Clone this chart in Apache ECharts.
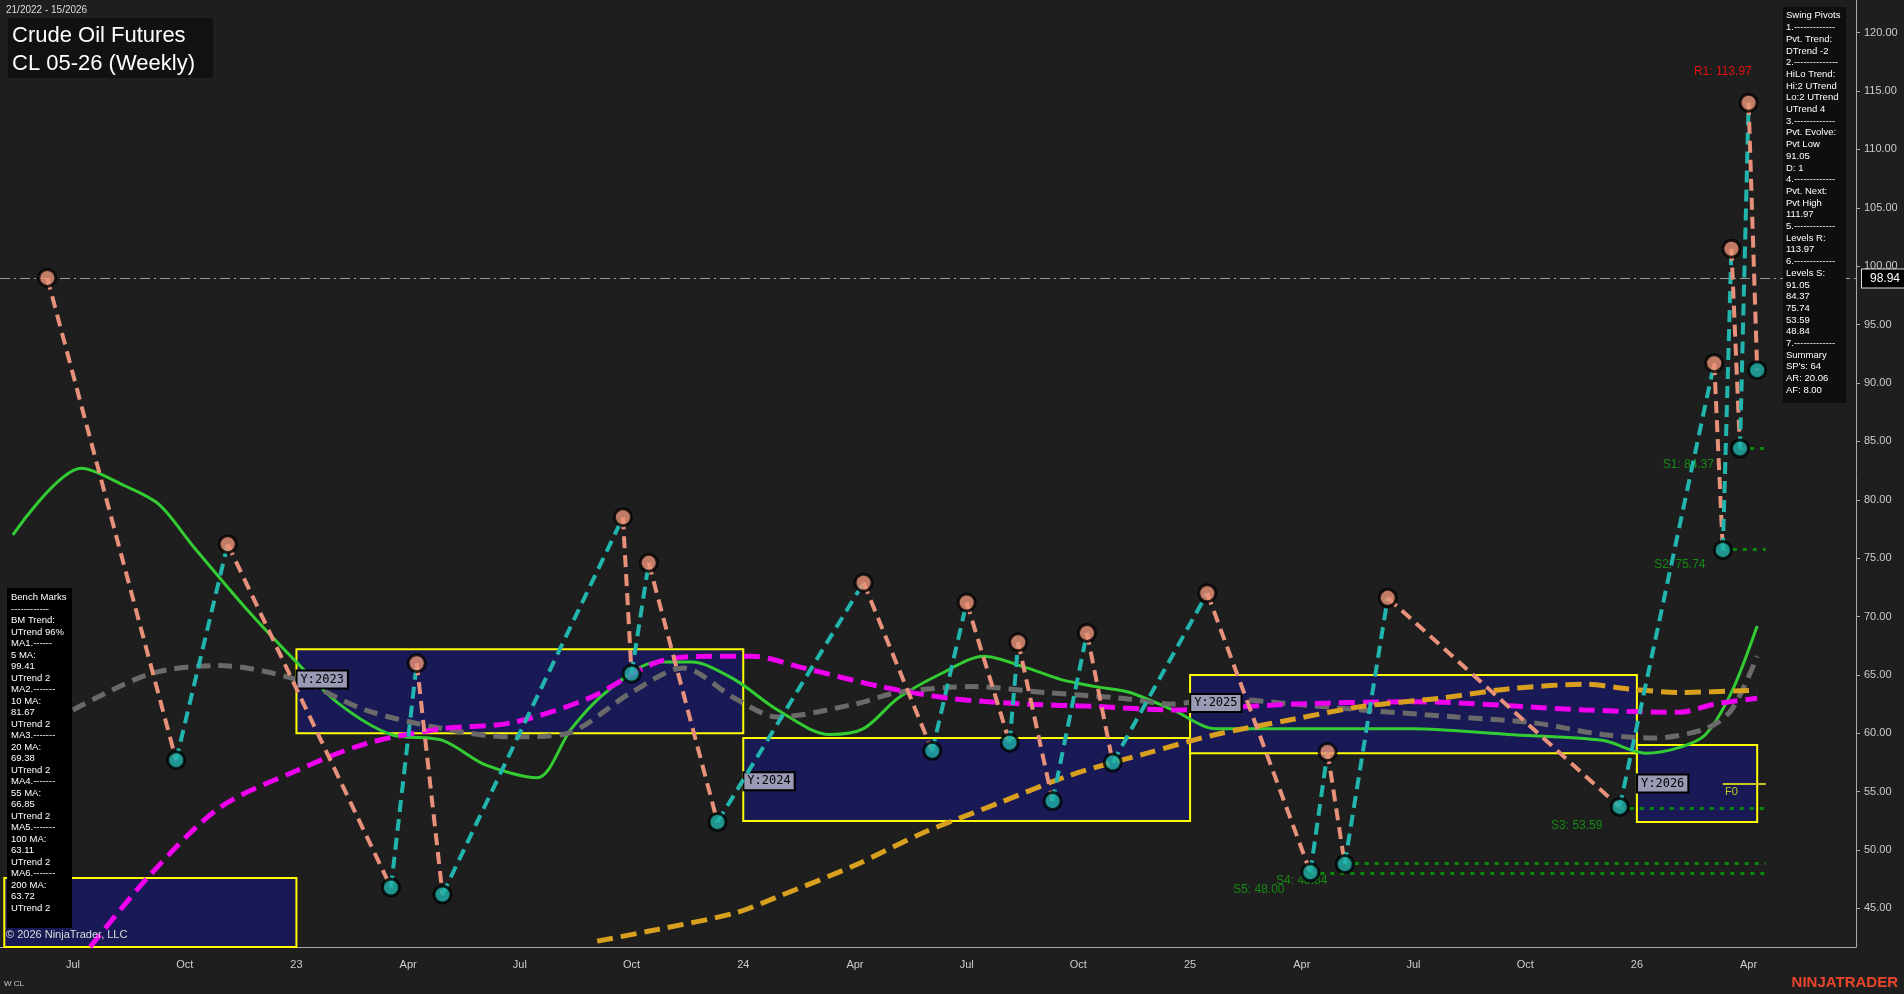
<!DOCTYPE html>
<html><head><meta charset="utf-8">
<script src="https://cdn.jsdelivr.net/npm/echarts@6/dist/echarts.min.js"></script>
<style>html,body{margin:0;background:#1e1e1e}#c{width:1904px;height:994px}</style>
</head><body><div id="c"></div>
<script>
// weeks: 0 = first week of 2023
const weekStart = -34, weekEnd = 181;
const quarterLabels = {"-26":"Jul","-13":"Oct","0":"23","13":"Apr","26":"Jul","39":"Oct","52":"24","65":"Apr","78":"Jul","91":"Oct","104":"25","117":"Apr","130":"Jul","143":"Oct","156":"26","169":"Apr"};
const yTicks = [45,50,55,60,65,70,75,80,85,90,95,100,105,110,115,120];
// swing pivots [week, price, type]
const pivots = [[-29,99.0,'H'],[-14,57.7,'L'],[-8,76.2,'H'],[11,46.8,'L'],[14,66.0,'H'],[17,46.2,'L'],[38,78.5,'H'],[39,65.1,'L'],[41,74.6,'H'],[49,52.4,'L'],[66,72.9,'H'],[74,58.5,'L'],[78,71.2,'H'],[83,59.2,'L'],[84,67.8,'H'],[88,54.2,'L'],[92,68.6,'H'],[95,57.5,'L'],[106,72.0,'H'],[118,48.1,'L'],[120,58.4,'H'],[122,48.8,'L'],[127,71.6,'H'],[154,53.7,'L'],[165,91.7,'H'],[166,75.7,'L'],[167,101.5,'H'],[168,84.4,'L'],[169,114.0,'H'],[170,91.1,'L']];
const ma20 = [[-33,77.0],[-25,82.7],[-20,81.2],[-16,79.6],[-12,76.0],[-6,70.8],[0,66.1],[5,62.5],[11,59.9],[17,59.4],[22,57.3],[28,56.2],[32,60.4],[36,63.5],[42,66.1],[46,66.1],[51,64.6],[56,62.0],[62,59.9],[66,60.4],[70,63.0],[75,65.1],[80,66.6],[85,65.6],[89,64.6],[93,64.0],[97,63.5],[102,62.0],[107,60.4],[119,60.4],[130,60.4],[141,59.9],[152,59.4],[157,58.3],[161,58.8],[164,59.9],[167,63.5],[170,69.2]];
const ma55 = [[-26,62.0],[-17,65.1],[-9,65.8],[0,64.6],[8,62.0],[17,60.4],[25,59.7],[31,59.9],[39,63.5],[45,65.6],[51,63.0],[56,61.4],[65,62.5],[70,63.5],[79,64.0],[87,63.5],[96,63.0],[102,62.5],[107,63.0],[116,62.5],[124,62.0],[135,61.4],[144,60.9],[152,59.9],[158,59.6],[164,60.4],[167,62.0],[170,66.6]];
const ma100 = [[-24,41.7],[-17,47.9],[-9,53.6],[0,56.8],[8,59.1],[17,60.4],[25,60.9],[34,63.0],[42,66.1],[48,66.6],[53,66.6],[59,65.6],[68,64.0],[76,63.0],[85,62.5],[93,62.3],[102,62.0],[116,62.5],[130,62.7],[150,62.0],[161,61.8],[165,62.5],[170,63.0]];
const ma200 = [[35,42.2],[42,43.2],[51,44.6],[56,46.0],[65,48.7],[73,51.5],[82,54.1],[90,56.4],[99,58.3],[107,59.9],[116,61.2],[124,62.3],[133,63.0],[141,63.8],[150,64.2],[155,63.8],[161,63.5],[170,63.7]];
// yearly range boxes [label, startWeek, endWeek, hi, lo]
const yearBoxes = [['',-34,-1,47.6,41.7],['Y:2023',0,51,67.2,60.0],['Y:2024',52,103,59.6,52.5],['Y:2025',104,155,65.0,58.3],['Y:2026',156,169,59.0,52.4]];
const yearLabelPos = [['Y:2023',3,64.6],['Y:2024',55,55.9],['Y:2025',107,62.6],['Y:2026',159,55.7]];
// support levels [label, price, startWeek, labelWeek, labelPrice]
const supports = [['S5: 48.00',48.0,118,112,46.6],['S4: 48.84',48.84,122,117,47.4],['S3: 53.59',53.59,154,149,52.1],['S2: 75.74',75.74,166,161,74.4],['S1: 84.37',84.37,168,162,83.0]];
const r1 = ['R1: 113.97',113.97,166,116.7];
const lastPrice = 98.94;
const tags = [[69.38,'#2ecc40','#000'],[66.85,'#6e6e6e','#fff'],[63.72,'#d4a017','#000'],[63.11,'#ff00ff','#000']];
const benchText = ['Bench Marks','------------','BM Trend:','UTrend 96%','MA1.------','5 MA:','99.41','UTrend 2','MA2.-------','10 MA:','81.67','UTrend 2','MA3.-------','20 MA:','69.38','UTrend 2','MA4.-------','55 MA:','66.85','UTrend 2','MA5.-------','100 MA:','63.11','UTrend 2','MA6.-------','200 MA:','63.72','UTrend 2'];
const pivotText = ['Swing Pivots','1.-------------','Pvt. Trend:','DTrend -2','2.--------------','HiLo Trend:','Hi:2 UTrend','Lo:2 UTrend','UTrend 4','3.-------------','Pvt. Evolve:','Pvt Low','91.05','D: 1','4.-------------','Pvt. Next:','Pvt High','111.97','5.-------------','Levels R:','113.97','6.-------------','Levels S:','91.05','84.37','75.74','53.59','48.84','7.-------------','Summary',"SP's: 64",'AR: 20.06','AF: 8.00'];

const ix = w => w - weekStart;
const cats = []; for (let w = weekStart; w <= weekEnd; w++) cats.push(String(w));
const conv = arr => arr.map(p => [ix(p[0]), p[1]]);
const series = [];
const UP = '#22b5ad', DN = '#e8917a';
for (let i = 0; i < pivots.length - 1; i++) {
  const a = pivots[i], b = pivots[i+1];
  series.push({type:'line', data:[[ix(a[0]),a[1]],[ix(b[0]),b[1]]], symbol:'none', silent:true, z:5,
    lineStyle:{color: b[1] > a[1] ? UP : DN, width:4, type:[12,7]}});
}
const maSeries = [[ma20,'#33cc33','solid',3],[ma55,'#6a6a6a',[14,8],5],[ma100,'#ee00ee',[16,8],5],[ma200,'#d9a020',[16,8],5]];
maSeries.forEach(m => series.push({type:'line', data:conv(m[0]), smooth:0.3, symbol:'none', z:3,
  lineStyle:{color:m[1], type:m[2], width:m[3]}}));
series.push({type:'scatter', data:pivots.map(p => ({value:[ix(p[0]),p[1]], itemStyle:{color:p[2]==='H'?'#eb9478':'#20b2aa'}})),
  symbolSize:17, z:10, itemStyle:{borderColor:'#000', borderWidth:3}});
series.push({type:'line', data:[], z:1,
  markArea:{silent:true, itemStyle:{color:'rgba(25,25,95,0.85)', borderColor:'#ffff00', borderWidth:2},
    data: yearBoxes.map(b => [{xAxis:ix(b[1])-0.5, yAxis:b[3]},{xAxis:ix(b[2])+0.5, yAxis:b[4]}])},
  markLine:{silent:true, symbol:'none', animation:false, data:[
    {yAxis:lastPrice, lineStyle:{color:'#9a9a9a', type:[10,4,2,4], width:1},
     label:{position:'end', formatter:String(lastPrice), color:'#fff', backgroundColor:'#000', borderColor:'#ddd', borderWidth:1, padding:[3,8], fontSize:12, distance:6}},
    ...tags.map(t => ({yAxis:t[0], lineStyle:{opacity:0},
     label:{position:'end', formatter:t[0].toFixed(2), color:t[2], backgroundColor:t[1], borderColor:'#bbb', borderWidth:1, padding:[3,10], fontSize:12, distance:6}})),
    ...supports.map(s => [{coord:[ix(s[2]),s[1]], lineStyle:{color:'#0a8a0a', type:[4,6], width:3}, label:{show:false}},{coord:[ix(171),s[1]]}]),
    [{coord:[ix(166),55.7], lineStyle:{color:'#c8c820', width:2, type:'solid'}, label:{show:false}},{coord:[ix(171),55.7]}]
  ]},
  markPoint:{silent:true, symbol:'rect', symbolSize:0, data:[
    ...yearLabelPos.map(y => ({coord:[ix(y[1]),y[2]], label:{show:true, formatter:y[0], position:'inside', color:'#000', backgroundColor:'#9a9ab5', borderColor:'#000', borderWidth:2, padding:[2,3], fontFamily:'DejaVu Sans Mono', fontSize:12}})),
    ...supports.map(s => ({coord:[ix(s[3]),s[4]], label:{show:true, formatter:s[0], color:'#138a13', fontSize:12}})),
    {coord:[ix(r1[2]),r1[3]], label:{show:true, formatter:r1[0], color:'#e01010', fontSize:12}},
    {coord:[ix(167),55.0], label:{show:true, formatter:'F0', color:'#c8c820', fontSize:11}}
  ]}});

const chart = echarts.init(document.getElementById('c'));
chart.setOption({
  backgroundColor:'#1e1e1e', animation:false,
  grid:{left:0, right:48, top:0, bottom:47},
  xAxis:{type:'category', data:cats, axisLine:{lineStyle:{color:'#aaa'}}, axisTick:{show:false},
    axisLabel:{color:'#ccc', fontSize:11, margin:12, interval:(i,v)=>quarterLabels[v]!==undefined, formatter:v=>quarterLabels[v]||''},
    splitLine:{show:false}},
  yAxis:{type:'value', position:'right', min:41.7, max:122.8, axisLine:{show:true, lineStyle:{color:'#aaa'}},
    axisTick:{show:true, customValues:yTicks, length:4, lineStyle:{color:'#aaa'}},
    axisLabel:{color:'#ccc', fontSize:11, customValues:yTicks, formatter:v=>v.toFixed(2), margin:8}, splitLine:{show:false}},
  series,
  graphic:{elements:[
    {type:'text', z:100, left:6, top:5, style:{text:'21/2022 - 15/2026', fill:'#ddd', font:'10px Arial'}},
    {type:'rect', z:100, shape:{x:8,y:18,width:205,height:60}, style:{fill:'#111'}},
    {type:'text', z:101, left:12, top:22, style:{text:'Crude Oil Futures\nCL 05-26 (Weekly)', fill:'#fff', font:'22px Arial', lineHeight:28}},
    {type:'rect', z:100, shape:{x:1783,y:7,width:63,height:396}, style:{fill:'#0e0e0e'}},
    {type:'text', z:101, left:1786, top:10, style:{text:pivotText.join('\n'), fill:'#fff', font:'9.5px Arial', lineHeight:11.7}},
    {type:'rect', z:100, shape:{x:7,y:588,width:65,height:340}, style:{fill:'#000'}},
    {type:'text', z:101, left:11, top:592, style:{text:benchText.join('\n'), fill:'#fff', font:'9.5px Arial', lineHeight:11.5}},
    {type:'text', z:101, left:6, top:929, style:{text:'© 2026 NinjaTrader, LLC', fill:'#ddd', font:'11px Arial'}},
    {type:'text', z:101, left:4, top:980, style:{text:'W CL', fill:'#ccc', font:'8px Arial'}},
    {type:'text', z:101, right:6, top:975, style:{text:'NINJATRADER', fill:'#e8452c', font:'bold 15px Arial'}}
  ]}
});
</script></body></html>
